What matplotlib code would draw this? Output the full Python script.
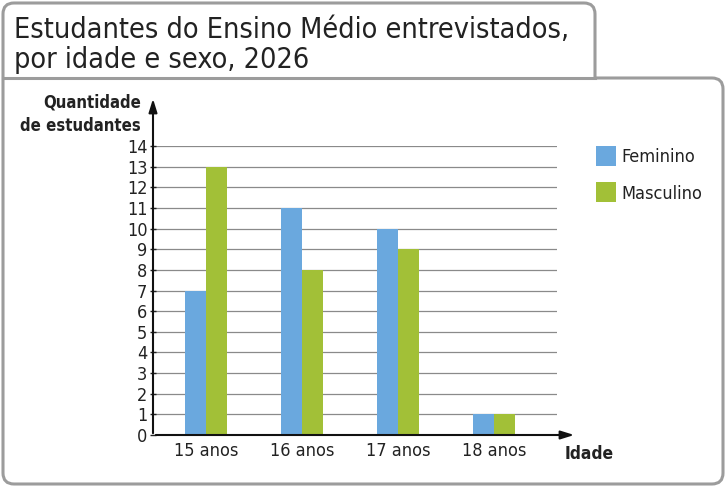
import matplotlib
matplotlib.use('Agg')
import matplotlib.pyplot as plt
from matplotlib.patches import PathPatch, Rectangle
from matplotlib.path import Path
from matplotlib.lines import Line2D
import numpy as np

plt.rcParams['font.family'] = ['DejaVu Sans']
plt.rcParams['font.stretch'] = 'condensed'

idades = ['15 anos', '16 anos', '17 anos', '18 anos']
feminino = [7, 11, 10, 1]
masculino = [13, 8, 9, 1]
cor_fem = '#6aa8de'
cor_masc = '#a2c037'

W, H = 726, 486
fig = plt.figure(figsize=(W / 100, H / 100), dpi=100)


def fx(px):
    return px / W


def fy(py):
    return 1 - py / H


# contorno unico: caixa do titulo + caixa do grafico, cantos arredondados
borda = '#9c9c9c'
r = 11
pts = [(3, 484 - r), (3, 3 + r), (3, 3), (3 + r, 3), (595 - r, 3), (595, 3), (595, 3 + r),
       (595, 78), (723 - r, 78), (723, 78), (723, 78 + r), (723, 484 - r), (723, 484),
       (723 - r, 484), (3 + r, 484), (3, 484), (3, 484 - r), (3, 484 - r)]
codes = [Path.MOVETO, Path.LINETO, Path.CURVE3, Path.CURVE3, Path.LINETO, Path.CURVE3, Path.CURVE3,
         Path.LINETO, Path.LINETO, Path.CURVE3, Path.CURVE3, Path.LINETO, Path.CURVE3,
         Path.CURVE3, Path.LINETO, Path.CURVE3, Path.CURVE3, Path.CLOSEPOLY]
contorno = Path([(fx(a), fy(b)) for a, b in pts], codes)
fig.patches.append(PathPatch(contorno, transform=fig.transFigure, fc='white', ec=borda,
                             lw=2.2, zorder=-2, joinstyle='round'))
fig.lines.append(Line2D([fx(3), fx(595)], [fy(78), fy(78)], transform=fig.transFigure,
                        color=borda, lw=2.2, zorder=-1))

fig.text(fx(14), fy(38), 'Estudantes do Ensino Médio entrevistados,', fontsize=20.6,
         color='#222222', va='baseline')
fig.text(fx(14), fy(68), 'por idade e sexo, 2026', fontsize=20.6,
         color='#222222', va='baseline')

ax = fig.add_axes([fx(153), fy(435), fx(557) - fx(153), fy(146) - fy(435)])
ax.set_facecolor('none')
x = np.arange(len(idades))
w = 0.219
ax.bar(x - w / 2, feminino, w, color=cor_fem, zorder=3)
ax.bar(x + w / 2, masculino, w, color=cor_masc, zorder=3)
ax.set_xlim(-0.552, 3.656)
ax.set_ylim(0, 14)
ax.set_yticks(range(15))
ax.set_xticks(x)
ax.set_xticklabels(idades)
for yv in range(1, 15):
    ax.axhline(yv, color='#8a8a8a', lw=0.9, zorder=1)
for s in ax.spines.values():
    s.set_visible(False)
ax.tick_params(axis='y', length=4, width=1, direction='inout', labelsize=13, pad=2, colors='#222222')
ax.tick_params(axis='x', length=0, labelsize=13, pad=5, colors='#222222')

# eixos com setas
ax.annotate('', xy=(fx(577), fy(435)), xytext=(fx(153), fy(435)), xycoords='figure fraction',
            arrowprops=dict(arrowstyle='-|>,head_length=0.8,head_width=0.25', color='#111111', lw=1.5),
            annotation_clip=False)
ax.annotate('', xy=(fx(153), fy(96)), xytext=(fx(153), fy(436)), xycoords='figure fraction',
            arrowprops=dict(arrowstyle='-|>,head_length=0.8,head_width=0.25', color='#111111', lw=1.5),
            annotation_clip=False)

fig.text(fx(141), fy(102), 'Quantidade', fontsize=12, fontweight='bold', ha='right', va='center', color='#222222')
fig.text(fx(141), fy(126), 'de estudantes', fontsize=12, fontweight='bold', ha='right', va='center', color='#222222')
fig.text(fx(565), fy(454), 'Idade', fontsize=12.5, fontweight='bold', ha='left', va='center', color='#222222')

# legenda
fig.patches.append(Rectangle((fx(596), fy(166)), fx(20), fy(146) - fy(166),
                             transform=fig.transFigure, fc=cor_fem, ec='none'))
fig.patches.append(Rectangle((fx(596), fy(202)), fx(20), fy(182) - fy(202),
                             transform=fig.transFigure, fc=cor_masc, ec='none'))
fig.text(fx(621), fy(157), 'Feminino', fontsize=13, va='center', color='#222222')
fig.text(fx(621), fy(194), 'Masculino', fontsize=13, va='center', color='#222222')

fig.savefig('out.png', dpi=100)
